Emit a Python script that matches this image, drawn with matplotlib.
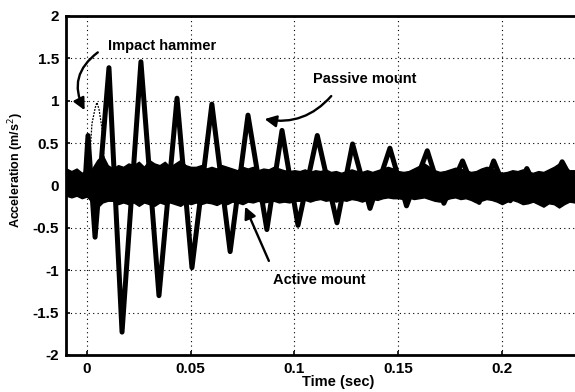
"""
Impact response: passive vs active mount
=========================================
Acceleration after a hammer impact, scanned-figure look.
"""

import numpy as np
import matplotlib
matplotlib.use('Agg')
import matplotlib.pyplot as plt
from matplotlib.patches import FancyArrowPatch

# --- data ------------------------------------------------------------------

# passive mount: turning points of the decaying oscillation (sec, m/s^2)
passive_t = [-0.0101, -0.0010, 0.0005, 0.0039, 0.0106, 0.0169, 0.0260, 0.0347,
             0.0434, 0.0506, 0.0602, 0.0690, 0.0776, 0.0867, 0.0940, 0.1017,
             0.1110, 0.1205, 0.1280, 0.1364, 0.1460, 0.1540, 0.1640, 0.1720,
             0.1810, 0.1890, 0.1960, 0.2040, 0.2120, 0.2200, 0.2290, 0.2352]
passive_a = [0.00, 0.00, 0.59, -0.61, 1.39, -1.73, 1.46, -1.30,
             1.03, -0.97, 0.96, -0.78, 0.83, -0.52, 0.65, -0.47,
             0.59, -0.44, 0.49, -0.27, 0.44, -0.24, 0.41, -0.21,
             0.29, -0.20, 0.29, -0.18, 0.20, -0.20, 0.28, 0.00]

# impact hammer pulse (thin dotted trace)
hammer_t = [0.0005, 0.0024, 0.0040, 0.0048, 0.0058, 0.0072, 0.0090]
hammer_a = [0.00, 0.73, 0.92, 0.98, 0.90, 0.68, 0.05]

# active mount: noise band envelope, sampled every 2.5 ms from -0.01 s
active_upper = [0.20, 0.17, 0.20, 0.15, 0.18,
                0.20, 0.30, 0.36, 0.24,
                0.20, 0.24, 0.22, 0.26, 0.24, 0.28, 0.22, 0.30,
                0.26, 0.24, 0.28, 0.22, 0.26, 0.30, 0.24, 0.22,
                0.22, 0.24, 0.20, 0.22, 0.20, 0.24, 0.22, 0.20, 0.18, 0.22,
                0.20, 0.22, 0.18, 0.20, 0.19, 0.22, 0.20, 0.18, 0.17, 0.18,
                0.17, 0.19, 0.16, 0.18, 0.17, 0.19, 0.16, 0.17, 0.15, 0.17,
                0.19, 0.17, 0.16, 0.18, 0.16, 0.18, 0.20, 0.22, 0.20, 0.17,
                0.16, 0.17, 0.20, 0.23, 0.26, 0.22, 0.18, 0.16, 0.17, 0.19,
                0.21, 0.20, 0.18, 0.16, 0.17, 0.20, 0.22, 0.21, 0.17, 0.15,
                0.16, 0.18, 0.17, 0.19, 0.16, 0.15, 0.17, 0.16, 0.19, 0.22,
                0.26, 0.22, 0.18, 0.18]
active_lower = [-0.12, -0.14, -0.12, -0.15, -0.13,
                -0.20, -0.26, -0.20, -0.18,
                -0.18, -0.22, -0.20, -0.22, -0.20, -0.24, -0.20, -0.22,
                -0.24, -0.20, -0.22, -0.20, -0.22, -0.24, -0.20, -0.22,
                -0.20, -0.22, -0.20, -0.21, -0.23, -0.20, -0.22, -0.19, -0.20, -0.22,
                -0.19, -0.20, -0.18, -0.20, -0.19, -0.18, -0.20, -0.19, -0.20, -0.18,
                -0.18, -0.17, -0.19, -0.17, -0.16, -0.18, -0.17, -0.19, -0.17, -0.18,
                -0.16, -0.17, -0.19, -0.17, -0.16, -0.17, -0.15, -0.14, -0.15, -0.15,
                -0.16, -0.14, -0.16, -0.15, -0.14, -0.16, -0.18, -0.19, -0.17, -0.15,
                -0.14, -0.16, -0.15, -0.17, -0.20, -0.18, -0.16, -0.17, -0.19, -0.22,
                -0.19, -0.17, -0.19, -0.22, -0.21, -0.19, -0.22, -0.25, -0.21, -0.22,
                -0.26, -0.22, -0.19, -0.20]

x_ticks = [0, 0.05, 0.1, 0.15, 0.2]
x_tick_labels = ['0', '0.05', '0.1', '0.15', '0.2']
y_ticks = [-2, -1.5, -1, -0.5, 0, 0.5, 1, 1.5, 2]
y_tick_labels = ['-2', '-1.5', '-1', '-0.5', '0', '0.5', '1', '1.5', '2']

FONT = 'Liberation Sans'


def curved_arrow(ax, start, tip, rad):
    """Solid-headed annotation arrow in data coords."""
    arr = FancyArrowPatch(start, tip, connectionstyle=f'arc3,rad={rad}',
                          arrowstyle='-|>,head_length=7,head_width=3.5',
                          color='black', lw=1.7, zorder=6)
    ax.add_patch(arr)


fig = plt.figure(figsize=(5.75, 3.92), dpi=100, facecolor='white')
ax = fig.add_axes([0.1148, 0.0944, 0.8852, 0.8648])

# active mount noise band
env_t = np.linspace(-0.01, 0.235, len(active_upper))
ax.fill_between(env_t, active_lower, active_upper, color='black', lw=1.0,
                edgecolor='black', zorder=3)

# passive mount oscillation
ax.plot(passive_t, passive_a, color='black', lw=3.6, zorder=4)

# impact hammer pulse
ax.plot(hammer_t, hammer_a, color='black', lw=0.9, ls=(0, (1.5, 1)), zorder=4)

ax.set_xlim(-0.0101, 0.2352)
ax.set_ylim(-2, 2)
ax.set_xticks(x_ticks)
ax.set_xticklabels(x_tick_labels)
ax.set_yticks(y_ticks)
ax.set_yticklabels(y_tick_labels)
ax.tick_params(direction='in', length=3, width=1.2, pad=5)
for lab in ax.get_xticklabels() + ax.get_yticklabels():
    lab.set_fontfamily(FONT)
    lab.set_fontweight('bold')
    lab.set_fontsize(11)

ax.grid(True, color='black', lw=0.8, ls=(0, (1, 3)))
ax.set_axisbelow(True)
for side in ('left', 'top', 'bottom'):
    ax.spines[side].set_linewidth(2)
ax.spines['right'].set_visible(False)

ax.set_xlabel('Time (sec)', fontfamily=FONT, fontweight='bold', fontsize=10.5)
ax.xaxis.set_label_coords(0.534, -0.058)
ax.set_ylabel('Acceleration (m/s$^2$)', fontfamily=FONT, fontsize=9,
              fontweight='bold')
ax.yaxis.set_label_coords(-0.078, 0.545)

# annotations
ax.text(0.0101, 1.65, 'Impact hammer', fontfamily=FONT, fontweight='bold',
        fontsize=10.5, va='center', ha='left', zorder=7)
curved_arrow(ax, (0.0063, 1.59), (-0.0005, 0.86), 0.45)

ax.text(0.1089, 1.26, 'Passive mount', fontfamily=FONT, fontweight='bold',
        fontsize=10.5, va='center', ha='left', zorder=7)
curved_arrow(ax, (0.1186, 1.08), (0.0843, 0.79), -0.3)

ax.text(0.0896, -1.12, 'Active mount', fontfamily=FONT, fontweight='bold',
        fontsize=10.5, va='center', ha='left', zorder=7)
curved_arrow(ax, (0.0882, -0.92), (0.0757, -0.22), 0.0)

fig.savefig('out.png', dpi=100, facecolor='white')
